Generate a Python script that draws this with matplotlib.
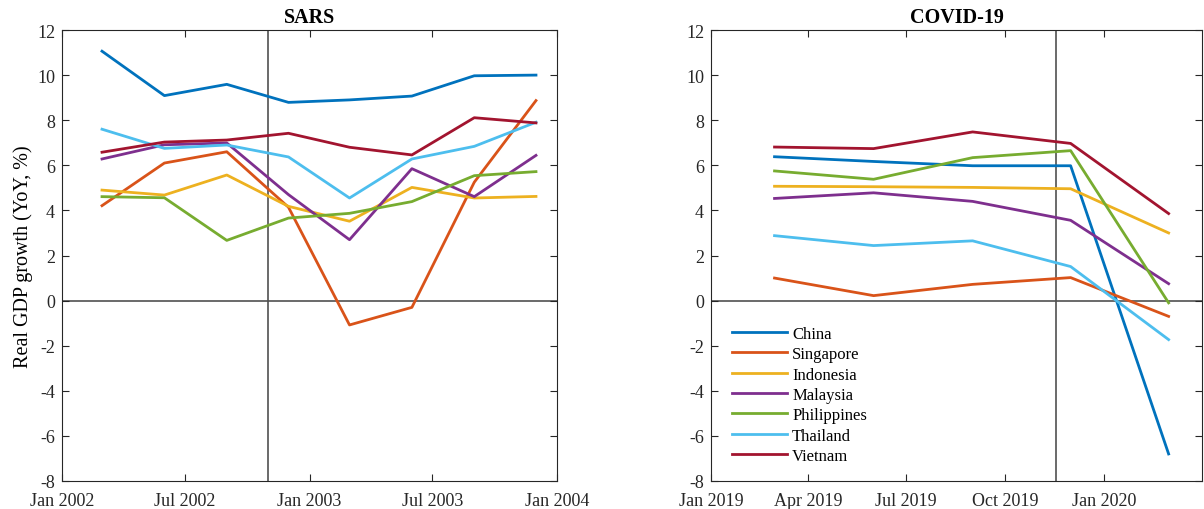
import numpy as np
import pandas as pd
import matplotlib
matplotlib.use("Agg")
import matplotlib.pyplot as plt
import matplotlib.dates as mdates

# ----------------------------------------------------------------------
# DATA (quarterly real GDP growth, YoY %)
# ----------------------------------------------------------------------
countries = ["China", "Singapore", "Indonesia", "Malaysia",
             "Philippines", "Thailand", "Vietnam"]

sars_dates = pd.to_datetime(["2002-03-01", "2002-06-01", "2002-09-01", "2002-12-01",
                             "2003-03-01", "2003-06-01", "2003-09-01", "2003-12-01"])
sars_china       = [11.06, 9.09, 9.59, 8.79, 8.90, 9.07, 9.97, 10.0]
sars_singapore   = [4.21, 6.10, 6.60, 4.14, -1.08, -0.30, 5.25, 8.87]
sars_indonesia   = [4.90, 4.68, 5.57, 4.18, 3.52, 5.02, 4.55, 4.62]
sars_malaysia    = [6.28, 6.91, 6.99, 4.70, 2.70, 5.85, 4.61, 6.44]
sars_philippines = [4.61, 4.56, 2.67, 3.66, 3.87, 4.39, 5.54, 5.72]
sars_thailand    = [7.60, 6.75, 6.90, 6.37, 4.55, 6.28, 6.84, 7.91]
sars_vietnam     = [6.58, 7.03, 7.12, 7.42, 6.80, 6.46, 8.11, 7.88]
sars_ticks = pd.to_datetime(["2002-01-01", "2002-07-01", "2003-01-01",
                             "2003-07-01", "2004-01-01"])

covid_dates = pd.to_datetime(["2019-03-01", "2019-06-01", "2019-09-01",
                              "2019-12-01", "2020-03-01"])
covid_china       = [6.38, 6.17, 5.98, 5.98, -6.8]
covid_singapore   = [1.0, 0.22, 0.72, 1.02, -0.7]
covid_indonesia   = [5.07, 5.05, 5.02, 4.96, 3.0]
covid_malaysia    = [4.53, 4.78, 4.40, 3.56, 0.75]
covid_philippines = [5.75, 5.38, 6.34, 6.65, -0.1]
covid_thailand    = [2.88, 2.44, 2.65, 1.51, -1.73]
covid_vietnam     = [6.81, 6.74, 7.48, 6.97, 3.86]
covid_ticks = pd.to_datetime(["2019-01-01", "2019-04-01", "2019-07-01",
                              "2019-10-01", "2020-01-01"])

sars_onset  = pd.Timestamp("2002-11-01")
covid_onset = pd.Timestamp("2019-11-17")

# ----------------------------------------------------------------------
# STYLE
# ----------------------------------------------------------------------
plt.rcParams.update({
    "font.family": ["Liberation Serif", "DejaVu Serif"],
    "font.size": 13,
    "axes.unicode_minus": False,
    "xtick.direction": "in",
    "ytick.direction": "in",
    "xtick.top": True,
    "ytick.right": True,
})

farben = ["#0072BD", "#D95319", "#EDB120", "#7E2F8E",
          "#77AC30", "#4DBEEE", "#A2142F"]
achsfarbe = "#262626"

fig = plt.figure(figsize=(12.04, 5.10), dpi=100)
ax1 = fig.add_axes([62 / 1204, 1 - 482 / 510, 495 / 1204, 451 / 510])
ax2 = fig.add_axes([711 / 1204, 1 - 482 / 510, 491 / 1204, 451 / 510])

sars_series = [sars_china, sars_singapore, sars_indonesia, sars_malaysia,
               sars_philippines, sars_thailand, sars_vietnam]
covid_series = [covid_china, covid_singapore, covid_indonesia, covid_malaysia,
                covid_philippines, covid_thailand, covid_vietnam]


def achse_formatieren(ax, titel, onset, xlim, ticks):
    ax.axhline(0, color="#505050", lw=1.2, zorder=1)
    ax.axvline(onset, color="#505050", lw=1.2, zorder=1)
    ax.set_xlim(*xlim)
    ax.set_ylim(-8, 12)
    ax.set_yticks(np.arange(-8, 13, 2))
    ax.set_xticks(ticks)
    ax.xaxis.set_major_formatter(mdates.DateFormatter("%b %Y"))
    ax.tick_params(length=5, width=0.8, color=achsfarbe, labelcolor=achsfarbe,
                   labelsize=13)
    ax.tick_params(axis="x", pad=8)
    ax.tick_params(axis="y", pad=5)
    for sp in ax.spines.values():
        sp.set_color(achsfarbe)
        sp.set_linewidth(0.8)
    ax.set_title(titel, fontweight="bold", fontsize=14.5, pad=6)


for werte, farbe, name in zip(sars_series, farben, countries):
    ax1.plot(sars_dates, werte, color=farbe, lw=2.0, label=name, zorder=2)
for werte, farbe, name in zip(covid_series, farben, countries):
    ax2.plot(covid_dates, werte, color=farbe, lw=2.0, label=name, zorder=2)

achse_formatieren(ax1, "SARS", sars_onset,
                  (pd.Timestamp("2002-01-01"), pd.Timestamp("2004-01-01")), sars_ticks)
achse_formatieren(ax2, "COVID-19", covid_onset,
                  (pd.Timestamp("2019-01-01"), pd.Timestamp("2020-04-01")), covid_ticks)

ax1.set_ylabel("Real GDP growth (YoY, %)", fontsize=14.5, labelpad=3)

ax2.legend(loc="upper left", bbox_to_anchor=(0.043, 0.344), frameon=False,
           fontsize=12, handlelength=3.3, handletextpad=0.3, labelspacing=0.26,
           borderpad=0, borderaxespad=0)

fig.savefig("out.png", dpi=100)
